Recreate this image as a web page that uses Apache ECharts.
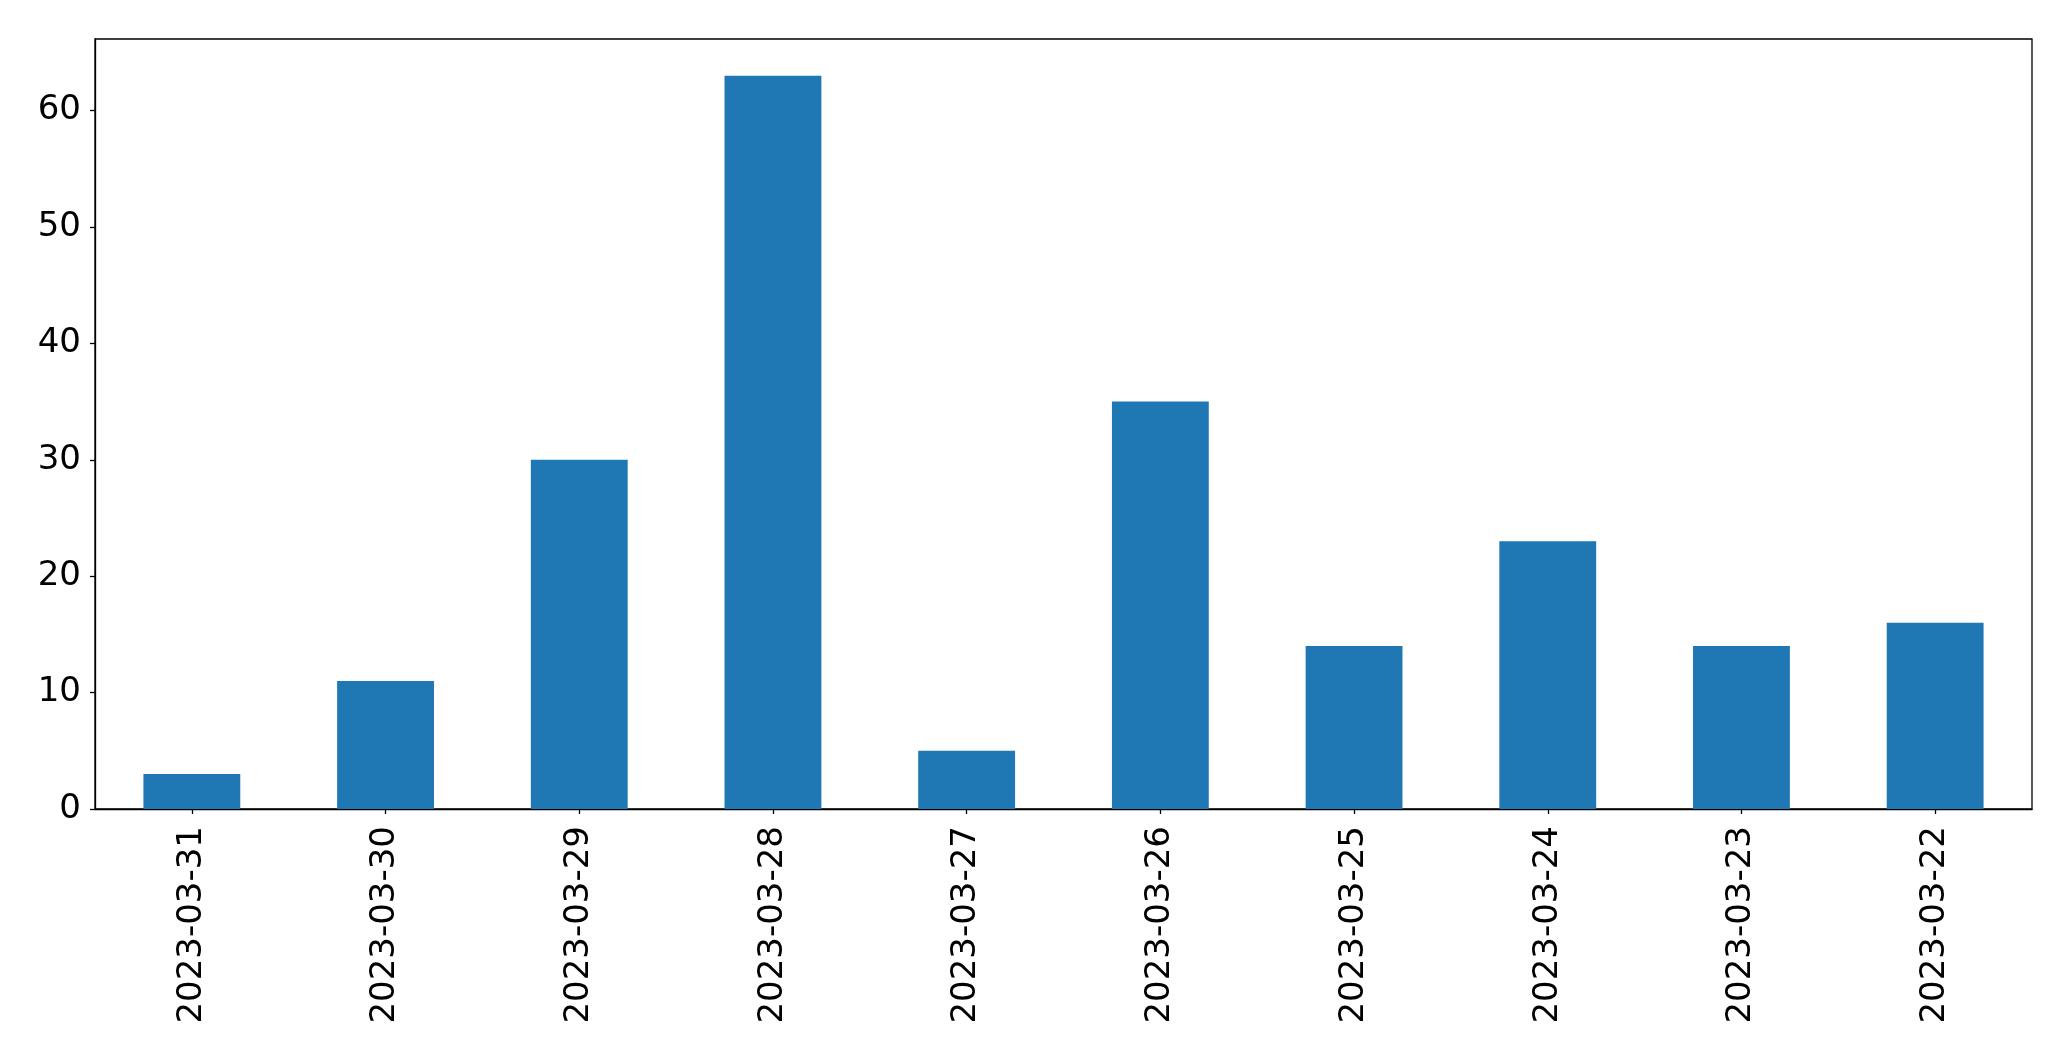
<!DOCTYPE html>
<html>
<head>
<meta charset="utf-8">
<script src="https://cdn.jsdelivr.net/npm/echarts@6/dist/echarts.min.js"></script>
<style>
html,body{margin:0;padding:0;background:#fff;}
#chart{width:2071px;height:1061px;}
</style>
</head>
<body>
<div id="chart"></div>
<script>
const categories = ["2023-03-31","2023-03-30","2023-03-29","2023-03-28","2023-03-27","2023-03-26","2023-03-25","2023-03-24","2023-03-23","2023-03-22"];
const values = [3, 11, 30, 63, 5, 35, 14, 23, 14, 16];
const yTicks = [0, 10, 20, 30, 40, 50, 60];

const chart = echarts.init(document.getElementById('chart'), null, {renderer: 'canvas'});
const font = 'DejaVu Sans';
chart.setOption({
  animation: false,
  backgroundColor: '#ffffff',
  grid: {
    left: 95, top: 39, right: 39, bottom: 252,
    show: true, borderColor: '#000', borderWidth: 1.3, backgroundColor: 'transparent'
  },
  xAxis: {
    type: 'category',
    data: categories,
    boundaryGap: true,
    axisLine: {show: true, lineStyle: {color: '#000', width: 1.3}},
    axisTick: {show: true, alignWithLabel: true, length: 5, lineStyle: {color: '#000', width: 1.3}},
    axisLabel: {rotate: 90, margin: 17, color: '#000', fontSize: 34, fontFamily: font, interval: 0},
    splitLine: {show: false}
  },
  yAxis: {
    type: 'value',
    min: 0,
    max: 66.15,
    interval: 10,
    axisLine: {show: true, lineStyle: {color: '#000', width: 1.3}},
    axisTick: {show: true, length: 5, customValues: yTicks, lineStyle: {color: '#000', width: 1.3}},
    axisLabel: {margin: 14, color: '#000', fontSize: 34, fontFamily: font, customValues: yTicks, padding: [8, 0, 0, 0]},
    splitLine: {show: false}
  },
  series: [{
    type: 'bar',
    data: values,
    barWidth: '50%',
    itemStyle: {color: '#1f77b4'}
  }]
});
</script>
</body>
</html>
